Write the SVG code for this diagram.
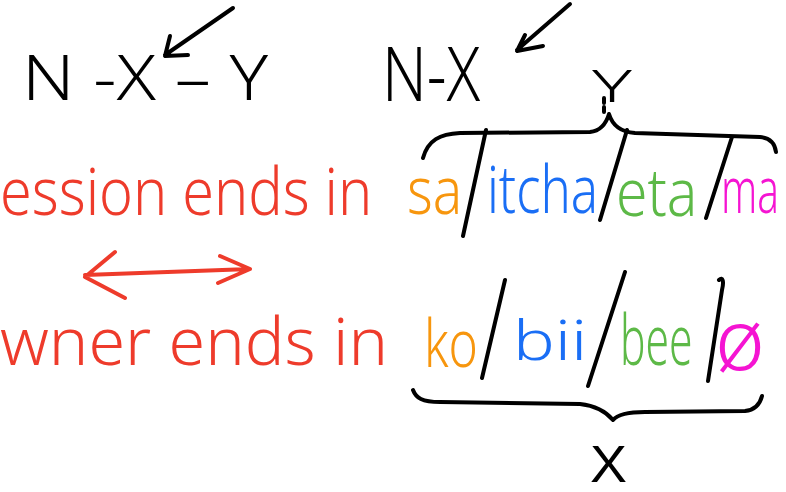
<svg xmlns="http://www.w3.org/2000/svg" width="786" height="492" viewBox="0 0 786 492">
<style>
.ink{fill:none;stroke:#000;stroke-width:4;stroke-linecap:round;stroke-linejoin:round}
.red{fill:none;stroke:#EE3B2B;stroke-width:4;stroke-linecap:round;stroke-linejoin:round}
.t{font-family:"Noto Sans","Liberation Sans",sans-serif;font-weight:300}
.bk{fill:#000}
.r{fill:#EE3B2B;font-size:66px}
.o{fill:#F7960E;font-size:66px}
.b{fill:#1A6EF5;font-size:66px}
.g{fill:#5DB947;font-size:66px}
.m{fill:#F514D2;font-size:64px}
</style>
<rect width="786" height="492" fill="#fff"/>
<g id="formula-left">
<text class="t bk" transform="translate(22 100) scale(1.14 1)" font-size="62" textLength="216" lengthAdjust="spacingAndGlyphs">N -X – Y</text>
</g>
<g id="formula-right">
<text class="t bk" transform="translate(382 101) scale(0.78 1)" font-size="76" textLength="126" lengthAdjust="spacingAndGlyphs">N-X</text>
<text class="t bk" x="592" y="102" font-size="44" textLength="40" lengthAdjust="spacingAndGlyphs">Y</text>
</g>
<g id="row-possession">
<text class="t r" transform="translate(0 215) scale(0.85 1)" textLength="438" lengthAdjust="spacingAndGlyphs">ession ends in</text>
<text class="t o" transform="translate(407 214) scale(0.8 1)" textLength="69" lengthAdjust="spacingAndGlyphs">sa</text>
<text class="t b" transform="translate(487 213) scale(0.74 1)" textLength="150" lengthAdjust="spacingAndGlyphs">itcha</text>
<text class="t g" transform="translate(616 216) scale(0.83 1)" textLength="98" lengthAdjust="spacingAndGlyphs">eta</text>
<text class="t m" transform="translate(721 213) scale(0.61 1)" textLength="95" lengthAdjust="spacingAndGlyphs">ma</text>
</g>
<g id="row-owner">
<text class="t r" transform="translate(0 365) scale(0.97 1)" textLength="400" lengthAdjust="spacingAndGlyphs">wner ends in</text>
<text class="t o" transform="translate(424 367) scale(0.72 1)" textLength="75" lengthAdjust="spacingAndGlyphs">ko</text>
<text class="t b" transform="translate(513 360) scale(1.2 1)" style="font-size:55px" textLength="62" lengthAdjust="spacingAndGlyphs">bii</text>
<text class="t g" transform="translate(620 365) scale(0.6 1)" style="font-size:70px" textLength="121" lengthAdjust="spacingAndGlyphs">bee</text>
<text class="t m" x="715" y="370" style="font-size:84px" textLength="50" lengthAdjust="spacingAndGlyphs">ø</text>
</g>
<g id="label-x">
<text x="590" y="482" font-family="'Liberation Sans',sans-serif" font-size="52" textLength="37" lengthAdjust="spacingAndGlyphs">X</text>
</g>
<g id="connectors">
<path class="ink" d="M233 8 L165 55 M170 36 L165 56 L188 55"/>
<path class="ink" d="M570 4 L517 50 M525 35 L517 51 L543 46"/>
<path class="ink" d="M604 98 L604 113" stroke-dasharray="5 4"/>
<path class="ink" d="M423 158 C428 140 440 134 460 133 L590 132 C600 131 606 124 609 114 C612 124 620 132 635 133 L760 137 C770 138 775 144 776 152"/>
<path class="ink" d="M486 130 L463 236 M627 130 L600 220 M732 137 L706 218"/>
<path class="ink" d="M505 280 L482 378 M625 272 L588 386 M719 280 C723 276 724 282 722 290 L708 381"/>
<path class="ink" d="M413 390 C416 398 422 402 440 402 L580 404 C598 406 608 414 613 420 C618 414 628 412 645 412 L745 411 C755 410 760 404 762 396"/>
<path class="red" d="M85 275 L250 269 M115 252 L85 277 L125 298 M220 256 L250 269 L218 283"/>
</g>
</svg>
